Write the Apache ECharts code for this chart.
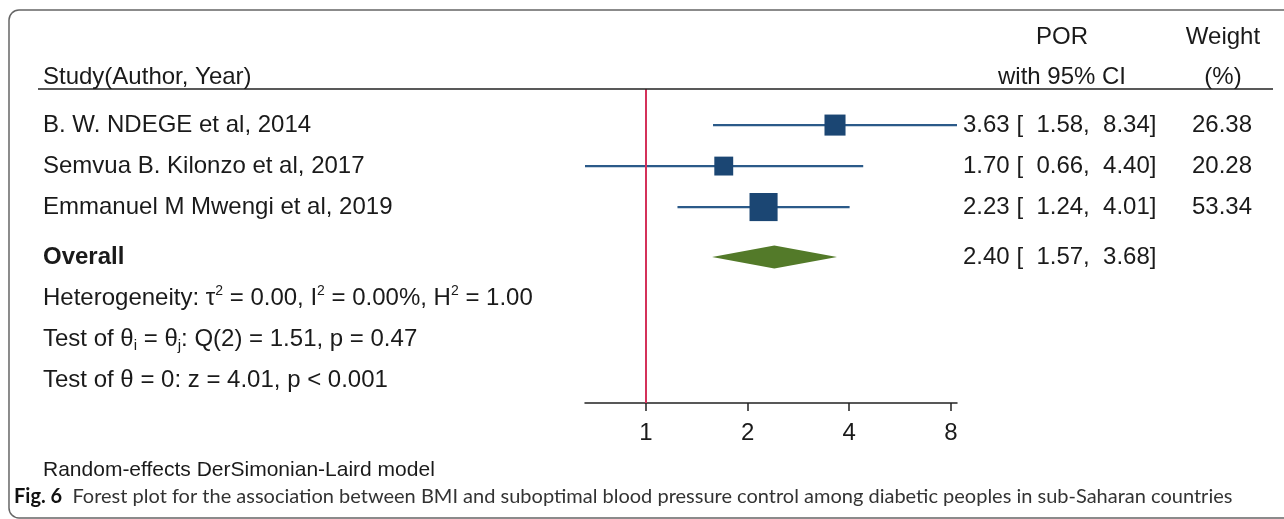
<!DOCTYPE html>
<html>
<head>
<meta charset="utf-8">
<script src="https://cdn.jsdelivr.net/npm/echarts@6/dist/echarts.min.js"></script>
<style>
html,body{margin:0;padding:0;background:#fff;}
#c{width:1284px;height:519px;}
</style>
</head>
<body>
<div id="c"></div>
<script>
// ---------- data ----------
const studies = ['B. W. NDEGE et al, 2014', 'Semvua B. Kilonzo et al, 2017', 'Emmanuel M Mwengi et al, 2019'];
const por = [3.63, 1.70, 2.23];
const lower = [1.58, 0.66, 1.24];
const upper = [8.34, 4.40, 4.01];
const weight = [26.38, 20.28, 53.34];
const overallPor = 2.40;
const overallLower = 1.57;
const overallUpper = 3.68;
const xTicks = [1, 2, 4, 8];
const statLines = [
  'Heterogeneity: \u03C4{sup|2} = 0.00, I{sup|2} = 0.00%, H{sup|2} = 1.00',
  'Test of \u03B8{sub|i} = \u03B8{sub|j}: Q(2) = 1.51, p = 0.47',
  'Test of \u03B8 = 0: z = 4.01, p < 0.001'
];

// ---------- layout ----------
const FONT = '"Liberation Sans", Arial, Helvetica, sans-serif';
const TXT = '#1a1a1a';
const rowPos = [1, 2, 3];
const overallPos = 4.22;
const statPos = [5.22, 6.22, 7.22];

const chart = echarts.init(document.getElementById('c'));

const option = {
  animation: false,
  grid: { left: 585, top: 89, width: 372, height: 314, containLabel: false, outerBoundsMode: 'none' },
  xAxis: {
    type: 'log', logBase: 2, min: 0.66, max: 8.34,
    axisLine: { show: true, lineStyle: { color: '#222', width: 1.5 } },
    axisTick: { show: true, customValues: xTicks, length: 8, lineStyle: { color: '#222', width: 1.5 } },
    axisLabel: { customValues: xTicks, fontSize: 24, fontFamily: FONT, color: TXT, margin: 18,
                 formatter: v => String(+(+v).toFixed(2)) },
    splitLine: { show: false }
  },
  yAxis: { type: 'value', inverse: true, min: 0.12, max: 7.78, show: false },
  series: [
    {
      type: 'custom',
      encode: { x: [0, 1], y: 2 },
      data: studies.map((s, i) => [lower[i], upper[i], rowPos[i]]),
      renderItem: (params, api) => {
        const a = api.coord([api.value(0), api.value(2)]);
        const b = api.coord([api.value(1), api.value(2)]);
        return { type: 'line', shape: { x1: a[0], y1: a[1], x2: b[0], y2: b[1] },
                 style: { stroke: '#2b5a89', lineWidth: 2.2 } };
      },
      z: 2
    },
    {
      type: 'scatter',
      symbol: 'rect',
      symbolSize: v => 5.5 * Math.pow(v[2], 0.41),
      data: por.map((p, i) => [p, rowPos[i], weight[i]]),
      itemStyle: { color: '#1b4673', opacity: 1 },
      z: 3,
      markLine: {
        silent: true, symbol: ['none', 'none'], label: { show: false },
        lineStyle: { color: '#d4315a', width: 2, type: 'solid', opacity: 1 },
        data: [{ xAxis: 1 }]
      }
    },
    {
      type: 'custom',
      encode: { x: [0, 1, 2], y: 3 },
      data: [[overallPor, overallLower, overallUpper, overallPos]],
      renderItem: (params, api) => {
        const y = api.value(3);
        const c = api.coord([api.value(0), y]);
        const l = api.coord([api.value(1), y]);
        const r = api.coord([api.value(2), y]);
        const h = 11.5;
        return { type: 'polygon',
                 shape: { points: [[l[0], l[1]], [c[0], c[1] - h], [r[0], r[1]], [c[0], c[1] + h]] },
                 style: { fill: '#537a29' } };
      },
      z: 3
    }
  ]
};
chart.setOption(option);

const py = v => chart.convertToPixel({ yAxisIndex: 0 }, v);
const fmt = v => v.toFixed(2);
const ciText = (e, l, u) => fmt(e) + ' [  ' + fmt(l) + ',  ' + fmt(u) + ']';

function txt(text, x, y, opts) {
  opts = opts || {};
  return {
    type: 'text', z: 10, silent: true,
    style: Object.assign({
      text: text, x: x, y: y,
      fontSize: 24, fontFamily: FONT, fill: TXT,
      align: opts.align || 'left', verticalAlign: 'middle',
      textAlign: opts.align || 'left', textVerticalAlign: 'middle'
    }, opts.style || {})
  };
}

const LEFT = 43;
const CI_X = 963;
const W_X = 1252;
const els = [];
els.push({ type: 'rect', z: 0, silent: true, shape: { x: 9, y: 10, width: 1330, height: 508, r: 10 },
           style: { fill: 'none', stroke: '#666', lineWidth: 1.5 } });
els.push({ type: 'line', z: 5, silent: true, shape: { x1: 38, y1: 89, x2: 1273, y2: 89 },
           style: { stroke: '#222', lineWidth: 1.5 } });
els.push(txt('Study(Author, Year)', LEFT, 77));
els.push(txt('POR', 1062, 37, { align: 'center' }));
els.push(txt('with 95% CI', 1062, 77, { align: 'center' }));
els.push(txt('Weight', 1223, 37, { align: 'center' }));
els.push(txt('(%)', 1223, 77, { align: 'center' }));

studies.forEach((s, i) => {
  const y = py(rowPos[i]);
  els.push(txt(s, LEFT, y));
  els.push(txt(ciText(por[i], lower[i], upper[i]), CI_X, y));
  els.push(txt(fmt(weight[i]), W_X, y, { align: 'right' }));
});
els.push(txt('Overall', LEFT, py(overallPos), { style: { fontWeight: 'bold' } }));
els.push(txt(ciText(overallPor, overallLower, overallUpper), CI_X, py(overallPos)));

const richStat = {
  sup: { fontSize: 14, fontFamily: FONT, fill: TXT, lineHeight: 14, verticalAlign: 'top' },
  sub: { fontSize: 15, fontFamily: FONT, fill: TXT, lineHeight: 18, verticalAlign: 'bottom' }
};
statLines.forEach((s, i) => {
  els.push(txt(s, LEFT, py(statPos[i]), { style: { rich: richStat, lineHeight: 28 } }));
});

els.push(txt('Random-effects DerSimonian-Laird model', LEFT, 470, { style: { fontSize: 21 } }));
const CAP_FONT = 'Lato, "Open Sans", sans-serif';
els.push(txt('{b|Fig. 6}  Forest plot for the association between BMI and suboptimal blood pressure control among diabetic peoples in sub-Saharan countries',
  14, 497, { style: { fontSize: 20, fontFamily: CAP_FONT, fill: '#333',
    rich: { b: { fontSize: 20, fontWeight: 'bold', fontFamily: CAP_FONT, fill: '#111' } } } }));

chart.setOption({ graphic: { elements: els } });
</script>
</body>
</html>
